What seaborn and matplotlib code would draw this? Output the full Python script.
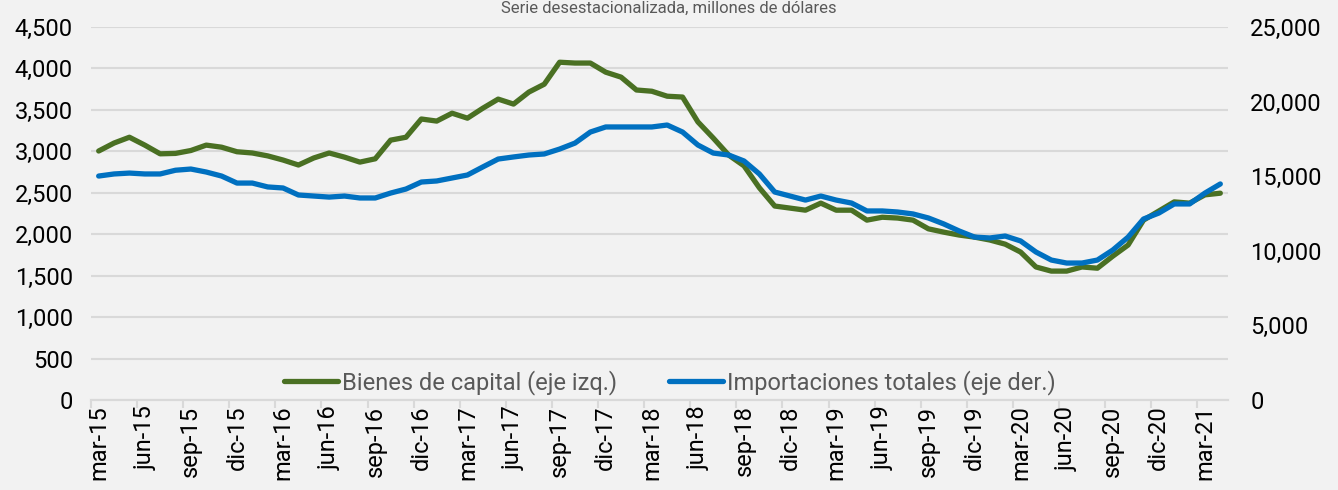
import matplotlib
matplotlib.use("Agg")
import matplotlib.pyplot as plt
import matplotlib.ticker as mticker
import numpy as np
import pandas as pd
import seaborn as sns

# ---- data -----------------------------------------------------------------
months = [
    "mar-15", "abr-15", "may-15", "jun-15", "jul-15", "ago-15", "sep-15", "oct-15", "nov-15", "dic-15",
    "ene-16", "feb-16", "mar-16", "abr-16", "may-16", "jun-16", "jul-16", "ago-16", "sep-16", "oct-16", "nov-16", "dic-16",
    "ene-17", "feb-17", "mar-17", "abr-17", "may-17", "jun-17", "jul-17", "ago-17", "sep-17", "oct-17", "nov-17", "dic-17",
    "ene-18", "feb-18", "mar-18", "abr-18", "may-18", "jun-18", "jul-18", "ago-18", "sep-18", "oct-18", "nov-18", "dic-18",
    "ene-19", "feb-19", "mar-19", "abr-19", "may-19", "jun-19", "jul-19", "ago-19", "sep-19", "oct-19", "nov-19", "dic-19",
    "ene-20", "feb-20", "mar-20", "abr-20", "may-20", "jun-20", "jul-20", "ago-20", "sep-20", "oct-20", "nov-20", "dic-20",
    "ene-21", "feb-21", "mar-21", "abr-21",
]

bienes_capital = [
    3004, 3100, 3170, 3075, 2970, 2975, 3010, 3075, 3050, 2995,
    2980, 2945, 2895, 2835, 2920, 2980, 2930, 2870, 2910, 3135, 3170, 3390,
    3365, 3460, 3400, 3520, 3630, 3570, 3715, 3810, 4075, 4065, 4065, 3955,
    3895, 3740, 3725, 3665, 3655, 3355, 3160, 2955, 2825, 2560, 2340, 2315,
    2290, 2375, 2290, 2290, 2170, 2205, 2195, 2170, 2065, 2025, 1990, 1965,
    1930, 1880, 1785, 1605, 1555, 1555, 1605, 1590, 1735, 1870, 2170, 2280,
    2390, 2375, 2475, 2495,
]

importaciones = [
    15010, 15150, 15210, 15150, 15150, 15400, 15480, 15280, 15010, 14540,
    14540, 14280, 14210, 13740, 13670, 13600, 13670, 13540, 13540, 13870, 14140, 14610,
    14680, 14880, 15080, 15620, 16150, 16290, 16420, 16490, 16820, 17220, 17960, 18300,
    18300, 18300, 18300, 18430, 17960, 17090, 16550, 16420, 16020, 15150, 13940, 13670,
    13400, 13670, 13400, 13200, 12670, 12670, 12600, 12470, 12200, 11800, 11330, 10920,
    10860, 10990, 10660, 9920, 9380, 9180, 9180, 9380, 10050, 10920, 12130, 12530,
    13140, 13140, 13870, 14480,
]

label_green = "Bienes de capital (eje izq.)"
label_blue = "Importaciones totales (eje der.)"
title_text = "Serie desestacionalizada, millones de dólares"

left_ticks = [0, 500, 1000, 1500, 2000, 2500, 3000, 3500, 4000, 4500]
right_ticks = [0, 5000, 10000, 15000, 20000, 25000]

# ---- style ----------------------------------------------------------------
BG = "#F2F2F2"
GRID = "#D9D9D9"
GREEN = "#4A7023"
BLUE = "#0070C0"
TXT = "#000000"
LEG = "#595959"
FS = 17

sns.set_theme(style="white")
plt.rcParams["font.family"] = ["Roboto", "DejaVu Sans"]

df = pd.DataFrame({
    "idx": np.arange(len(months)),
    "mes": months,
    "bienes": bienes_capital,
    "imp": importaciones,
})

fig = plt.figure(figsize=(13.38, 4.90), dpi=100, facecolor=BG)
ax = fig.add_axes([91 / 1338, 1 - 400 / 490, (1228 - 91) / 1338, (400 - 27) / 490])
ax.set_facecolor(BG)

sns.lineplot(data=df, x="idx", y="bienes", ax=ax, color=GREEN, linewidth=3.8,
             label=label_green, legend=False, zorder=3)

ax2 = ax.twinx()
sns.lineplot(data=df, x="idx", y="imp", ax=ax2, color=BLUE, linewidth=3.8,
             label=label_blue, legend=False, zorder=3)

n = len(months)
ax.set_xlim(-0.5, n - 0.5)
ax.set_ylim(0, 4500)
ax2.set_ylim(0, 25000)

# y grid
ax.set_yticks(left_ticks)
ax.yaxis.set_major_formatter(mticker.FuncFormatter(lambda v, p: f"{int(v):,}"))
ax.grid(axis="y", color=GRID, linewidth=1.5, zorder=0)
ax.set_axisbelow(True)
ax2.set_yticks(right_ticks)
ax2.yaxis.set_major_formatter(mticker.FuncFormatter(lambda v, p: f"{int(v):,}"))
ax2.grid(False)

# x ticks: labels at every 3rd category, tick marks at category boundaries
label_pos = list(range(0, n, 3))
ax.set_xticks(label_pos)
ax.set_xticklabels([months[i] for i in label_pos], rotation=90, fontsize=FS, color=TXT)
ax.set_xticks([p - 0.5 for p in label_pos], minor=True)
ax.tick_params(axis="x", which="major", length=0, pad=4)
ax.tick_params(axis="x", which="minor", length=6, width=1.5, color=GRID, bottom=True)
ax.tick_params(axis="y", length=0, labelsize=FS, labelcolor=TXT, pad=13)
ax2.tick_params(axis="y", length=0, labelsize=FS, labelcolor=TXT, pad=16)

for a in (ax, ax2):
    for s in ("top", "left", "right"):
        a.spines[s].set_visible(False)
    a.spines["bottom"].set_color(GRID)
    a.spines["bottom"].set_linewidth(1.5)
    a.set_xlabel("")
    a.set_ylabel("")

# legend
h1, l1 = ax.get_legend_handles_labels()
h2, l2 = ax2.get_legend_handles_labels()
leg = ax2.legend(h1 + h2, l1 + l2, loc="center", bbox_to_anchor=(0.509, 0.046),
                 ncol=2, frameon=False, fontsize=FS, handlelength=2.3,
                 handletextpad=0.15, columnspacing=2.2, labelcolor=LEG)

# title (kept small at the very top, above the plot area)
fig.text(0.5, 1 - 1 / 490, title_text, ha="center", va="top",
         fontsize=12, color=LEG)

fig.savefig("out.png", dpi=100, facecolor=BG)
